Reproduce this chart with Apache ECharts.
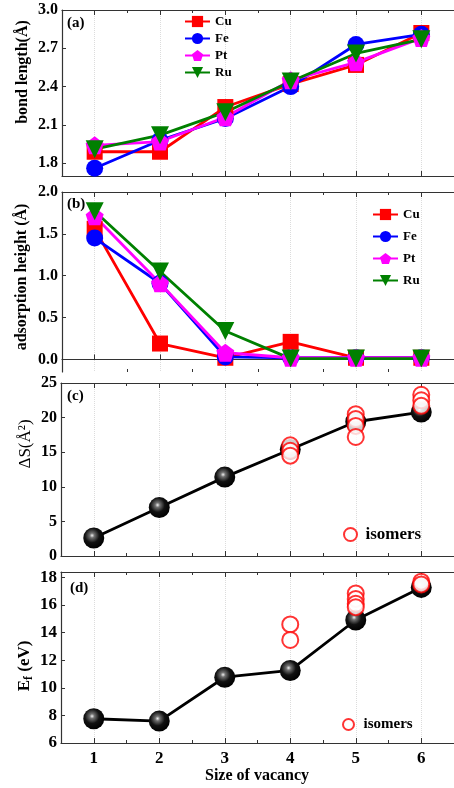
<!DOCTYPE html>
<html>
<head>
<meta charset="utf-8">
<script src="https://cdn.jsdelivr.net/npm/echarts@6/dist/echarts.min.js"></script>
<style>
html,body{margin:0;padding:0;background:#fff;}
#chart{width:454px;height:788px;}
</style>
</head>
<body>
<div id="chart"></div>
<script>
// vacancy sizes
var sizes = [1, 2, 3, 4, 5, 6];
var halfSizes = [1.5, 2.5, 3.5, 4.5, 5.5];

// (a) bond length
var bondCu = [1.89, 1.89, 2.24, 2.42, 2.57, 2.82];
var bondFe = [1.76, 1.98, 2.15, 2.40, 2.73, 2.81];
var bondPt = [1.94, 1.97, 2.16, 2.45, 2.59, 2.78];
var bondRu = [1.91, 2.02, 2.20, 2.44, 2.66, 2.77];
var ticksA = [1.8, 2.1, 2.4, 2.7, 3.0];

// (b) adsorption height
var hCu = [1.56, 0.19, 0.02, 0.21, 0.02, 0.02];
var hFe = [1.45, 0.91, 0.03, 0.02, 0.02, 0.02];
var hPt = [1.71, 0.91, 0.08, 0.02, 0.02, 0.02];
var hRu = [1.77, 1.05, 0.34, 0.01, 0.01, 0.01];
var ticksB = [0, 0.5, 1.0, 1.5, 2.0];

// (c) area change
var areaMain = [2.6, 7.0, 11.4, 15.4, 19.4, 20.8];
var isoAreaSize = [4, 4, 4, 5, 5, 5, 5, 6, 6, 6];
var isoAreaVal = [16.0, 15.2, 14.5, 20.5, 19.8, 18.8, 17.2, 23.3, 22.5, 21.7];

// (d) formation energy
var efMain = [7.76, 7.59, 10.77, 11.26, 14.92, 17.28];
var isoEfSize = [4, 4, 5, 5, 5, 5, 6, 6];
var isoEfVal = [14.6, 13.47, 16.85, 16.45, 16.1, 15.85, 17.7, 17.5];
var ticksD = [6, 8, 10, 12, 14, 16, 18];

var serif = '"Liberation Serif", "DejaVu Serif", serif';
var axisColor = '#333';
var pentagon = 'path://M0,-1 L0.951,-0.309 L0.588,0.809 L-0.588,0.809 L-0.951,-0.309 Z';
var downTri = 'path://M-1,-0.85 L1,-0.85 L0,0.9 Z';

function zip(xs, ys) {
    return xs.map(function (x, i) { return [x, ys[i]]; });
}

var grids = [
    {left: 62, width: 400, top: 10, height: 166},
    {left: 62, width: 400, top: 192, height: 180},
    {left: 61, width: 401, top: 383, height: 173},
    {left: 61, width: 401, top: 572, height: 171}
];

var xAxes = [];
function addXAxes(gi, labels) {
    var base = {type: 'value', gridIndex: gi, min: 0.5, max: 6.5};
    xAxes.push(Object.assign({}, base, {
        position: 'bottom',
        axisLine: {show: true, lineStyle: {color: axisColor, width: 1.2}},
        axisTick: {show: true, inside: true, length: 5, customValues: sizes, lineStyle: {color: axisColor}},
        axisLabel: {show: labels, customValues: sizes, margin: 7, color: '#000',
            fontFamily: serif, fontWeight: 'bold', fontSize: 17},
        splitLine: {show: true, lineStyle: {color: '#dcdcdc', type: 'dotted', width: 1}}
    }));
    xAxes.push(Object.assign({}, base, {
        position: 'bottom',
        axisLine: {show: false},
        axisTick: {show: true, inside: true, length: 3, customValues: halfSizes, lineStyle: {color: axisColor}},
        axisLabel: {show: false},
        splitLine: {show: false}
    }));
    xAxes.push(Object.assign({}, base, {
        position: 'top',
        axisLine: {show: true, lineStyle: {color: axisColor, width: 1.2}},
        axisTick: {show: true, inside: true, length: 5, customValues: sizes, lineStyle: {color: axisColor}},
        axisLabel: {show: false},
        splitLine: {show: false}
    }));
    xAxes.push(Object.assign({}, base, {
        position: 'top',
        axisLine: {show: false},
        axisTick: {show: true, inside: true, length: 3, customValues: halfSizes, lineStyle: {color: axisColor}},
        axisLabel: {show: false},
        splitLine: {show: false}
    }));
}
addXAxes(0, false);
addXAxes(1, false);
addXAxes(2, false);
addXAxes(3, true);

function yAxis(gi, min, max, ticks, dec, fs) {
    return {
        type: 'value', gridIndex: gi, min: min, max: max,
        axisLine: {show: true, lineStyle: {color: axisColor, width: 1.2}},
        axisTick: {show: true, inside: true, length: 4, customValues: ticks, lineStyle: {color: axisColor}},
        axisLabel: {customValues: ticks, margin: 4, color: '#000', fontFamily: serif,
            fontWeight: 'bold', fontSize: fs,
            formatter: function (v) { return v.toFixed(dec); }},
        splitLine: {show: false}
    };
}

var yAxes = [
    yAxis(0, 1.7, 3.0, ticksA, 1, 16),
    yAxis(1, -0.15, 2.0, ticksB, 1, 16),
    yAxis(2, 0, 25, [0, 5, 10, 15, 20, 25], 0, 16),
    yAxis(3, 6, 18.4, ticksD, 0, 17)
];

var metalStyle = {
    Cu: {color: '#ff0000', symbol: 'rect', size: 16},
    Fe: {color: '#0000ff', symbol: 'circle', size: 17},
    Pt: {color: '#ff00ff', symbol: pentagon, size: 18},
    Ru: {color: '#008000', symbol: downTri, size: 18}
};

function metalSeries(name, gi, vals) {
    var st = metalStyle[name];
    return {
        name: name, type: 'line', xAxisIndex: gi * 4, yAxisIndex: gi,
        data: zip(sizes, vals),
        symbol: st.symbol, symbolSize: st.size,
        itemStyle: {color: st.color},
        lineStyle: {color: st.color, width: 2.8},
        animation: false
    };
}

var sphere = {
    type: 'radial', x: 0.42, y: 0.38, r: 0.62,
    colorStops: [
        {offset: 0, color: '#f0f0f0'},
        {offset: 0.18, color: '#707070'},
        {offset: 0.55, color: '#111'},
        {offset: 1, color: '#000'}
    ]
};

function mainSeries(gi, vals) {
    return {
        type: 'line', xAxisIndex: gi * 4, yAxisIndex: gi,
        data: zip(sizes, vals),
        symbol: 'circle', symbolSize: 21,
        itemStyle: {color: sphere},
        lineStyle: {color: '#000', width: 2.8},
        z: 2, animation: false
    };
}

function isoSeries(gi, xs, ys, size) {
    return {
        name: 'isomers', type: 'scatter', xAxisIndex: gi * 4, yAxisIndex: gi,
        data: zip(xs, ys),
        symbol: 'emptyCircle', symbolSize: size,
        itemStyle: {color: '#ff0000', borderColor: '#ff0000', borderWidth: 2.5},
        z: 3, animation: false
    };
}

var series = [
    metalSeries('Cu', 0, bondCu), metalSeries('Fe', 0, bondFe),
    metalSeries('Pt', 0, bondPt), metalSeries('Ru', 0, bondRu),
    metalSeries('Cu', 1, hCu), metalSeries('Fe', 1, hFe),
    metalSeries('Pt', 1, hPt), metalSeries('Ru', 1, hRu),
    mainSeries(2, areaMain), isoSeries(2, isoAreaSize, isoAreaVal, 16),
    mainSeries(3, efMain), isoSeries(3, isoEfSize, isoEfVal, 16)
];

var legText = {fontFamily: serif, fontWeight: 'bold', fontSize: 13, color: '#000'};
var legends = [
    {data: ['Cu', 'Fe', 'Pt', 'Ru'], orient: 'vertical', left: 184, top: 15,
        itemWidth: 25, itemHeight: 14, itemGap: 4, textStyle: legText, padding: 0},
    {data: ['Cu', 'Fe', 'Pt', 'Ru'], orient: 'vertical', left: 372, top: 208,
        itemWidth: 25, itemHeight: 14, itemGap: 9, textStyle: legText, padding: 0},
    {data: ['isomers'], left: 343, top: 526, itemWidth: 20, itemHeight: 13, itemGap: 2,
        textStyle: {fontFamily: serif, fontWeight: 'bold', fontSize: 17, color: '#000'}, padding: 0},
    {data: ['isomers'], left: 342, top: 717, itemWidth: 20, itemHeight: 11, itemGap: 2,
        textStyle: {fontFamily: serif, fontWeight: 'bold', fontSize: 15, color: '#000'}, padding: 0}
];

function label(x, y, text, size) {
    return {type: 'text', left: x, top: y, silent: true,
        style: {text: text, font: 'bold ' + size + 'px ' + serif, fill: '#000'}};
}
function yName(x, y, text, font) {
    return {type: 'text', x: x, y: y, rotation: Math.PI / 2, silent: true,
        style: {text: text, font: font, fill: '#000', align: 'center', verticalAlign: 'middle'}};
}

var graphic = [
    label(67, 16, '(a)', 15),
    label(67, 197, '(b)', 15),
    label(67, 389, '(c)', 15),
    label(70, 581, '(d)', 15),
    yName(23, 72, 'bond length(Å)', 'bold 16px ' + serif),
    yName(22, 277, 'adsorption height (Å)', 'bold 16px ' + serif),
    yName(26, 444, 'ΔS(Å²)', '17px ' + serif),
    {type: 'text', x: 25, y: 666, rotation: Math.PI / 2, silent: true,
        style: {text: '{b|E}{s|f}{b| (eV)}', fill: '#000', align: 'center', verticalAlign: 'middle',
            rich: {b: {font: 'bold 17px ' + serif, fill: '#000'},
                s: {font: 'bold 12px ' + serif, fill: '#000', padding: [8, 0, 0, 0]}}}},
    {type: 'text', x: 257, y: 776, silent: true,
        style: {text: 'Size of vacancy', font: 'bold 16px ' + serif, fill: '#000',
            align: 'center', verticalAlign: 'middle'}}
];

var myChart = echarts.init(document.getElementById('chart'));
myChart.setOption({
    backgroundColor: '#fff',
    animation: false,
    grid: grids,
    xAxis: xAxes,
    yAxis: yAxes,
    legend: legends,
    series: series,
    graphic: graphic
});
</script>
</body>
</html>
